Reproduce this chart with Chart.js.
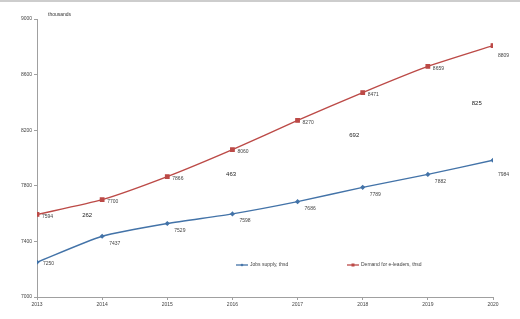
<!DOCTYPE html>
<html>
<head>
<meta charset="utf-8">
<script src="https://cdn.jsdelivr.net/npm/chart.js@4/dist/chart.umd.min.js"></script>
<style>
  html, body { margin: 0; padding: 0; background: #fff; }
  #wrap { width: 520px; height: 319px; position: relative; }
</style>
</head>
<body>
<div id="wrap"><canvas id="line-chart" width="520" height="319"></canvas></div>
<script>
const years = [2013, 2014, 2015, 2016, 2017, 2018, 2019, 2020];
const jobsSupply = [7250, 7437, 7529, 7598, 7686, 7789, 7882, 7984];
const demandLeaders = [7594, 7700, 7866, 8060, 8270, 8471, 8659, 8809];
const yTicks = [7000, 7400, 7800, 8200, 8600, 9000];
// gap annotations as printed in the source, placed in data units
const gapText = ['262', '463', '692', '825'];
const gapX = [2013.77, 2015.98, 2017.87, 2019.75];
const gapY = [7590, 7885, 8165, 8396];

const blue = '#4373A8';
const red = '#BC4A47';

const labelPlugin = {
    id: 'labels',
    beforeDraw(chart) {
        const c = chart.ctx;
        c.save();
        c.fillStyle = '#cdcdcd';
        c.fillRect(0, 0, chart.width, 2);
        c.restore();
    },
    afterDatasetsDraw(chart) {
        const c = chart.ctx;
        const xs = chart.scales.x, ys = chart.scales.y;
        c.save();
        c.font = '5px "Liberation Sans", Arial, sans-serif';
        c.fillStyle = '#444';
        c.textBaseline = 'middle';
        c.textAlign = 'left';
        // demand labels
        chart.getDatasetMeta(1).data.forEach((p, i) => {
            const dy = i === demandLeaders.length - 1 ? 10 : 2;
            c.fillText(String(demandLeaders[i]), p.x + 5, p.y + dy);
        });
        // supply labels
        chart.getDatasetMeta(0).data.forEach((p, i) => {
            let dx = 7, dy = 7;
            if (i === 0) { dx = 6; dy = 1; }
            if (i === jobsSupply.length - 1) { dx = 5; dy = 14; }
            c.fillText(String(jobsSupply[i]), p.x + dx, p.y + dy);
        });
        // gap labels
        c.font = '6px "Liberation Sans", Arial, sans-serif';
        c.fillStyle = '#222';
        c.textAlign = 'center';
        gapText.forEach((t, i) => {
            c.fillText(t, xs.getPixelForValue(gapX[i]), ys.getPixelForValue(gapY[i]));
        });
        // axis unit
        c.font = '5px "Liberation Sans", Arial, sans-serif';
        c.fillStyle = '#333';
        c.textAlign = 'left';
        c.fillText('thousands', chart.chartArea.left + 11, 15);
        // legend inside plot area
        const ly = chart.chartArea.bottom - 32;
        const items = [
            {x: chart.chartArea.left + 199, color: blue, text: 'Jobs supply, thsd', style: 'diamond'},
            {x: chart.chartArea.left + 310, color: red, text: 'Demand for e-leaders, thsd', style: 'square'}
        ];
        items.forEach(it => {
            c.strokeStyle = it.color;
            c.lineWidth = 1.3;
            c.beginPath();
            c.moveTo(it.x, ly);
            c.lineTo(it.x + 12, ly);
            c.stroke();
            c.fillStyle = it.color;
            if (it.style === 'square') {
                c.fillRect(it.x + 4.5, ly - 1.5, 3, 3);
            } else {
                c.beginPath();
                c.moveTo(it.x + 6, ly - 1.6);
                c.lineTo(it.x + 7.6, ly);
                c.lineTo(it.x + 6, ly + 1.6);
                c.lineTo(it.x + 4.4, ly);
                c.closePath();
                c.fill();
            }
            c.fillStyle = '#444';
            c.fillText(it.text, it.x + 14, ly);
        });
        c.restore();
    }
};

const ctx = document.getElementById('line-chart').getContext('2d');
const myChart = new Chart(ctx, {
    type: 'line',
    data: {
        datasets: [{
            label: 'Jobs supply, thsd',
            data: years.map((y, i) => ({x: y, y: jobsSupply[i]})),
            borderColor: blue,
            backgroundColor: blue,
            borderWidth: 1.4,
            pointStyle: 'rectRot',
            pointRadius: 1.6,
            tension: 0.2
        }, {
            label: 'Demand for e-leaders, thsd',
            data: years.map((y, i) => ({x: y, y: demandLeaders[i]})),
            borderColor: red,
            backgroundColor: red,
            borderWidth: 1.4,
            pointStyle: 'rect',
            pointRadius: 2.4,
            tension: 0.2
        }]
    },
    options: {
        responsive: false,
        animation: false,
        layout: {padding: {top: 19, right: 27, left: 0, bottom: 0}},
        plugins: {legend: {display: false}, tooltip: {enabled: false}},
        scales: {
            x: {
                type: 'linear',
                min: 2013,
                max: 2020,
                afterFit: s => { s.height = 22; },
                afterBuildTicks: s => { s.ticks = years.map(v => ({value: v})); },
                grid: {drawOnChartArea: false, tickLength: 3, color: '#a0a0a0'},
                border: {color: '#a0a0a0'},
                ticks: {
                    callback: v => String(v),
                    font: {size: 5, family: '"Liberation Sans", Arial'},
                    color: '#444',
                    padding: 2,
                    maxRotation: 0
                }
            },
            y: {
                min: 7000,
                max: 9000,
                afterFit: s => { s.width = 37; },
                afterBuildTicks: s => { s.ticks = yTicks.map(v => ({value: v})); },
                grid: {drawOnChartArea: false, tickLength: 3, color: '#a0a0a0'},
                border: {color: '#a0a0a0'},
                ticks: {
                    callback: v => String(v),
                    font: {size: 5, family: '"Liberation Sans", Arial'},
                    color: '#444',
                    padding: 2
                }
            }
        }
    },
    plugins: [labelPlugin]
});
</script>
</body>
</html>
